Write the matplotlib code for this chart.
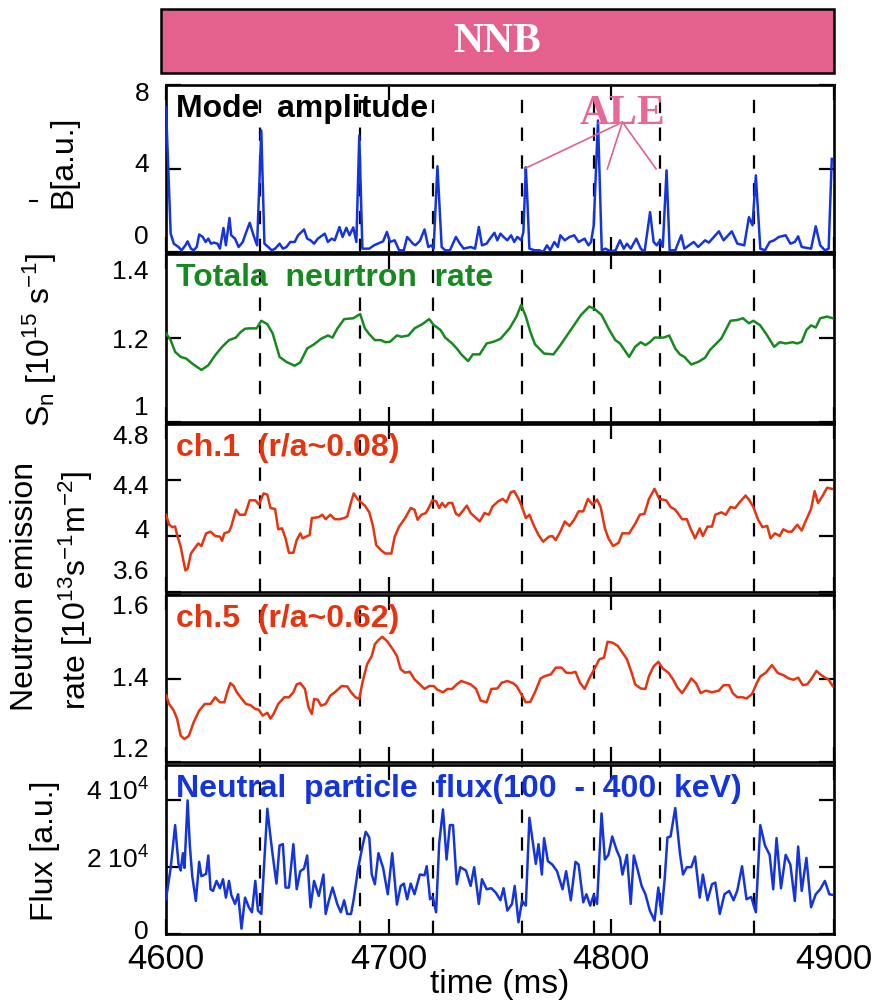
import matplotlib
matplotlib.use('Agg')
import matplotlib.pyplot as plt
from matplotlib.patches import Rectangle
from matplotlib.lines import Line2D

plt.rcParams['font.family'] = ['Liberation Sans', 'DejaVu Sans']
plt.rcParams['mathtext.fontset'] = 'custom'
plt.rcParams['mathtext.rm'] = 'Liberation Sans'
plt.rcParams['mathtext.it'] = 'Liberation Sans:italic'
plt.rcParams['mathtext.bf'] = 'Liberation Sans:bold'

# ---------------- data ----------------
ale_times = [4642, 4687, 4720, 4760, 4792, 4822, 4864]
ale_targets_t = [4761.6, 4798.2, 4820.1]
ale_targets_v = [4.02, 3.98, 3.98]

mode_t = [4600.0, 4602.1, 4603.5, 4605.6, 4607.0, 4608.7, 4609.7, 4611.2, 4612.4, 4613.8,
          4614.9, 4616.5, 4617.8, 4619.0, 4620.2, 4621.5, 4623.1, 4624.2, 4625.8, 4626.9,
          4628.5, 4629.3, 4631.0, 4632.6, 4634.5, 4635.5, 4637.6, 4639.3, 4640.9, 4642.8,
          4644.2, 4645.9, 4647.5, 4649.0, 4651.0, 4652.5, 4654.1, 4655.8, 4657.8, 4659.3,
          4662.0, 4663.4, 4664.9, 4666.5, 4668.2, 4671.3, 4672.7, 4674.4, 4675.8, 4677.9,
          4679.3, 4681.0, 4682.4, 4684.1, 4685.5, 4686.8, 4688.2, 4691.3, 4693.4, 4697.5,
          4699.2, 4700.6, 4702.7, 4704.7, 4706.8, 4708.3, 4710.9, 4712.0, 4714.0, 4716.1,
          4717.8, 4719.2, 4720.2, 4721.9, 4723.8, 4725.4, 4727.5, 4730.2, 4732.0, 4733.7,
          4736.8, 4738.8, 4740.5, 4741.9, 4744.0, 4745.5, 4747.5, 4748.8, 4750.2, 4751.6,
          4753.3, 4755.0, 4756.4, 4757.8, 4759.5, 4760.5, 4761.6, 4762.2, 4763.2, 4765.7,
          4767.8, 4769.4, 4771.1, 4772.5, 4774.4, 4776.0, 4777.1, 4779.1, 4781.2, 4783.3,
          4785.3, 4788.0, 4789.7, 4790.9, 4792.1, 4794.0, 4795.7, 4797.3, 4799.8, 4801.9,
          4803.9, 4805.6, 4807.0, 4808.7, 4811.2, 4813.2, 4814.9, 4817.4, 4819.0, 4820.4,
          4821.9, 4823.1, 4824.8, 4826.2, 4828.7, 4831.4, 4832.8, 4834.9, 4837.0, 4839.0,
          4842.1, 4843.8, 4848.3, 4850.4, 4854.1, 4856.6, 4859.7, 4861.8, 4863.4, 4864.9,
          4866.9, 4869.0, 4871.1, 4873.1, 4875.2, 4878.3, 4880.4, 4882.4, 4883.9, 4885.5,
          4889.7, 4891.8, 4893.8, 4895.9, 4897.6, 4899.0]
mode_amp = [6.93, 0.88, 0.40, 0.24, 0.08, 0.32, 0.51, 0.16, 0.08, 0.24,
            0.84, 0.72, 0.48, 0.64, 0.40, 0.45, 0.40, 0.16, 1.15, 0.32,
            1.63, 0.80, 0.64, 0.24, 0.48, 0.80, 1.40, 0.80, 0.32, 5.82,
            0.40, 0.24, 0.08, 0.16, 0.40, 0.16, 0.24, 0.48, 0.48, 0.80,
            1.08, 0.64, 0.56, 0.40, 0.64, 0.88, 0.48, 0.64, 0.56, 1.20,
            0.72, 1.16, 0.80, 1.18, 0.48, 5.58, 0.16, 0.16, 0.32, 0.51,
            0.96, 0.48, 0.56, 0.08, 0.08, 0.72, 0.40, 0.32, 0.53, 1.08,
            0.24, 0.32, 0.16, 4.11, 0.24, 0.08, 0.08, 0.72, 0.40, 0.16,
            0.24, 0.16, 1.20, 0.32, 0.40, 0.64, 0.92, 0.56, 0.88, 0.72,
            0.56, 0.80, 0.48, 0.72, 0.56, 0.96, 4.06, 2.71, 0.16, 0.08,
            0.08, 0.0, 0.32, 0.08, 0.48, 0.24, 0.80, 0.56, 0.72, 0.80,
            0.48, 0.64, 0.32, 0.48, 1.28, 6.30, 0.08, 0.16, 0.03, 0.08,
            0.56, 0.16, 0.40, 0.16, 0.64, 0.16, 0.0, 1.91, 0.48, 0.32,
            0.56, 0.24, 3.91, 0.08, 0.08, 0.80, 0.16, 0.32, 0.48, 0.24,
            0.56, 0.45, 0.99, 0.56, 0.99, 0.40, 0.32, 1.67, 1.28, 3.67,
            0.16, 0.08, 0.48, 0.56, 0.72, 0.80, 0.40, 0.48, 0.75, 0.24,
            0.16, 1.23, 0.32, 0.08, 0.16, 4.46]

sn_t = [4600.0, 4602.1, 4604.1, 4606.6, 4609.1, 4611.8, 4615.9, 4619.0, 4622.1, 4625.2,
        4628.3, 4631.4, 4633.5, 4635.5, 4637.6, 4640.7, 4642.8, 4645.5, 4647.9, 4651.0,
        4654.1, 4657.8, 4660.3, 4663.4, 4666.5, 4669.6, 4672.7, 4674.8, 4676.9, 4680.0,
        4684.1, 4687.2, 4689.3, 4691.3, 4693.8, 4696.5, 4698.5, 4700.6, 4703.7, 4705.8,
        4708.9, 4711.6, 4715.1, 4718.2, 4720.2, 4723.3, 4725.4, 4728.5, 4730.6, 4732.6,
        4735.7, 4737.8, 4740.9, 4744.0, 4747.1, 4750.2, 4754.3, 4757.4, 4759.5, 4761.6,
        4763.6, 4765.7, 4769.8, 4774.0, 4777.1, 4780.2, 4783.3, 4786.4, 4790.1, 4792.5,
        4795.6, 4798.7, 4801.8, 4803.9, 4808.0, 4810.7, 4813.2, 4815.3, 4817.3, 4819.4,
        4823.5, 4826.0, 4828.7, 4830.8, 4832.8, 4835.9, 4839.0, 4842.1, 4844.2, 4849.4,
        4853.5, 4856.6, 4859.1, 4861.8, 4863.8, 4866.9, 4870.0, 4873.1, 4875.6, 4878.3,
        4881.4, 4883.5, 4885.5, 4887.6, 4889.7, 4891.8, 4893.8, 4896.9, 4899.4]
sn_rate = [1.211, 1.195, 1.167, 1.155, 1.151, 1.139, 1.124, 1.135, 1.159, 1.179,
           1.195, 1.201, 1.214, 1.222, 1.223, 1.223, 1.241, 1.233, 1.211, 1.155,
           1.143, 1.134, 1.142, 1.175, 1.185, 1.198, 1.206, 1.201, 1.222, 1.245,
           1.247, 1.257, 1.223, 1.209, 1.195, 1.195, 1.190, 1.191, 1.206, 1.203,
           1.206, 1.223, 1.233, 1.245, 1.231, 1.219, 1.201, 1.187, 1.175, 1.161,
           1.145, 1.161, 1.161, 1.187, 1.191, 1.198, 1.223, 1.251, 1.279, 1.251,
           1.215, 1.185, 1.163, 1.161, 1.183, 1.207, 1.231, 1.255, 1.275, 1.269,
           1.255, 1.223, 1.195, 1.187, 1.155, 1.179, 1.190, 1.183, 1.190, 1.201,
           1.201, 1.206, 1.175, 1.161, 1.155, 1.137, 1.143, 1.153, 1.171, 1.199,
           1.241, 1.243, 1.247, 1.235, 1.241, 1.230, 1.206, 1.179, 1.190, 1.187,
           1.190, 1.187, 1.191, 1.219, 1.230, 1.225, 1.247, 1.251, 1.247]

ch1_t = [4600.0, 4601.4, 4602.9, 4604.1, 4605.0, 4606.6, 4608.7, 4609.7, 4611.2, 4612.8,
         4614.5, 4615.9, 4618.0, 4620.0, 4622.1, 4624.2, 4625.2, 4626.2, 4628.3, 4629.3,
         4631.4, 4633.1, 4635.5, 4637.6, 4640.1, 4641.7, 4643.8, 4645.5, 4646.9, 4649.0,
         4650.4, 4652.1, 4653.7, 4655.2, 4657.2, 4658.7, 4660.3, 4661.4, 4662.8, 4664.5,
         4665.5, 4668.6, 4670.2, 4671.7, 4673.8, 4675.8, 4677.9, 4680.0, 4681.4, 4683.1,
         4684.3, 4686.2, 4689.3, 4691.3, 4693.0, 4694.4, 4696.5, 4698.5, 4701.2, 4702.7,
         4704.7, 4707.4, 4709.9, 4711.6, 4713.0, 4714.7, 4716.7, 4718.2, 4719.6, 4721.3,
         4722.7, 4724.0, 4725.4, 4726.9, 4728.5, 4730.2, 4731.6, 4733.7, 4735.1, 4736.8,
         4739.3, 4740.9, 4743.0, 4745.0, 4746.7, 4749.2, 4751.2, 4752.9, 4754.9, 4756.4,
         4758.5, 4759.9, 4761.6, 4763.2, 4765.3, 4767.3, 4769.4, 4771.9, 4773.5, 4775.0,
         4777.1, 4779.1, 4781.2, 4783.3, 4785.3, 4787.4, 4789.5, 4791.5, 4793.6, 4795.2,
         4797.1, 4798.7, 4800.8, 4803.3, 4804.9, 4808.0, 4810.7, 4812.8, 4814.9, 4816.9,
         4819.4, 4821.5, 4824.6, 4826.6, 4828.7, 4831.8, 4833.9, 4835.5, 4837.6, 4839.7,
         4841.1, 4843.2, 4845.2, 4846.7, 4849.4, 4851.4, 4853.5, 4855.6, 4857.6, 4860.3,
         4861.8, 4863.8, 4865.9, 4867.9, 4870.0, 4871.5, 4873.5, 4875.6, 4877.2, 4879.3,
         4881.0, 4883.5, 4885.5, 4887.2, 4889.7, 4891.3, 4892.8, 4894.8, 4896.9, 4899.0]
ch1_rate = [4.152, 4.080, 4.063, 4.068, 4.007, 3.923, 3.754, 3.766, 3.875, 3.911,
            3.947, 3.928, 4.019, 4.031, 4.000, 3.995, 3.966, 4.019, 4.031, 4.067,
            4.188, 4.152, 4.152, 4.255, 4.255, 4.224, 4.304, 4.296, 4.200, 4.193,
            4.048, 4.055, 3.983, 3.880, 3.880, 3.971, 4.019, 3.983, 3.995, 4.007,
            4.128, 4.135, 4.152, 4.120, 4.152, 4.120, 4.120, 4.128, 4.140, 4.241,
            4.304, 4.260, 4.217, 4.169, 4.067, 3.935, 3.899, 3.875, 3.875, 3.995,
            4.067, 4.128, 4.200, 4.188, 4.116, 4.152, 4.164, 4.207, 4.255, 4.248,
            4.200, 4.236, 4.207, 4.236, 4.236, 4.159, 4.145, 4.188, 4.217, 4.164,
            4.128, 4.104, 4.164, 4.152, 4.212, 4.248, 4.265, 4.241, 4.313, 4.320,
            4.260, 4.207, 4.128, 4.152, 4.072, 4.007, 3.959, 3.995, 4.000, 3.971,
            4.031, 4.104, 4.072, 4.116, 4.176, 4.176, 4.265, 4.224, 4.260, 4.207,
            4.055, 3.983, 3.928, 3.952, 4.019, 4.019, 4.087, 4.152, 4.159, 4.265,
            4.337, 4.265, 4.255, 4.207, 4.188, 4.120, 4.120, 4.055, 3.983, 4.055,
            4.000, 4.067, 4.067, 4.152, 4.169, 4.152, 4.207, 4.200, 4.241, 4.289,
            4.260, 4.207, 4.116, 4.063, 4.072, 3.983, 4.019, 4.000, 4.048, 4.031,
            4.031, 4.080, 4.039, 4.104, 4.193, 4.320, 4.236, 4.284, 4.345, 4.337]

ch5_t = [4600.0, 4601.4, 4603.5, 4605.0, 4606.6, 4608.3, 4610.3, 4612.4, 4614.9, 4617.4,
         4620.0, 4622.1, 4624.2, 4626.2, 4627.7, 4628.9, 4630.4, 4631.8, 4633.5, 4635.9,
         4638.0, 4640.1, 4641.7, 4643.4, 4645.5, 4646.9, 4648.3, 4650.4, 4653.1, 4655.2,
         4657.2, 4658.7, 4660.3, 4662.4, 4664.0, 4665.5, 4666.5, 4668.2, 4669.6, 4671.7,
         4673.8, 4675.8, 4678.9, 4681.4, 4683.1, 4685.1, 4686.8, 4688.2, 4690.3, 4692.4,
         4693.8, 4695.4, 4697.1, 4699.2, 4701.6, 4703.7, 4705.4, 4707.4, 4709.5, 4711.6,
         4714.0, 4716.1, 4718.2, 4720.2, 4721.9, 4724.4, 4726.4, 4728.5, 4730.6, 4732.6,
         4734.7, 4736.8, 4739.3, 4741.3, 4744.0, 4746.1, 4748.8, 4750.8, 4753.3, 4755.8,
         4757.4, 4759.5, 4761.6, 4763.6, 4765.7, 4768.2, 4770.2, 4772.9, 4775.0, 4777.7,
         4779.7, 4781.8, 4783.9, 4785.9, 4788.0, 4790.1, 4792.5, 4794.6, 4796.7, 4798.3,
         4800.4, 4802.9, 4805.0, 4807.0, 4809.1, 4810.7, 4813.2, 4815.3, 4816.9, 4819.0,
         4821.1, 4823.1, 4825.6, 4827.7, 4829.7, 4831.8, 4833.9, 4835.9, 4838.0, 4840.1,
         4842.5, 4845.2, 4848.3, 4850.4, 4852.9, 4854.5, 4856.6, 4859.1, 4860.7, 4863.2,
         4865.3, 4866.9, 4869.4, 4872.1, 4874.8, 4877.3, 4879.7, 4881.8, 4883.9, 4886.0,
         4888.0, 4889.7, 4892.1, 4893.8, 4895.9, 4897.5, 4899.4]
ch5_rate = [1.360, 1.339, 1.323, 1.303, 1.263, 1.255, 1.263, 1.295, 1.323, 1.339,
            1.339, 1.355, 1.343, 1.343, 1.371, 1.389, 1.382, 1.367, 1.355, 1.339,
            1.336, 1.327, 1.325, 1.311, 1.318, 1.304, 1.315, 1.339, 1.355, 1.355,
            1.367, 1.386, 1.389, 1.375, 1.331, 1.315, 1.351, 1.349, 1.335, 1.339,
            1.359, 1.367, 1.382, 1.381, 1.367, 1.355, 1.351, 1.390, 1.434, 1.454,
            1.482, 1.492, 1.500, 1.490, 1.472, 1.454, 1.422, 1.414, 1.416, 1.398,
            1.386, 1.375, 1.382, 1.382, 1.373, 1.367, 1.375, 1.375, 1.386, 1.394,
            1.390, 1.386, 1.375, 1.347, 1.343, 1.375, 1.376, 1.390, 1.394, 1.389,
            1.382, 1.363, 1.343, 1.344, 1.367, 1.400, 1.406, 1.410, 1.426, 1.426,
            1.414, 1.413, 1.416, 1.390, 1.375, 1.400, 1.424, 1.446, 1.450, 1.488,
            1.486, 1.478, 1.462, 1.446, 1.414, 1.386, 1.376, 1.375, 1.406, 1.429,
            1.440, 1.424, 1.414, 1.398, 1.378, 1.365, 1.382, 1.400, 1.389, 1.365,
            1.371, 1.367, 1.371, 1.384, 1.384, 1.365, 1.355, 1.355, 1.352, 1.363,
            1.389, 1.405, 1.414, 1.432, 1.413, 1.408, 1.400, 1.397, 1.402, 1.384,
            1.386, 1.398, 1.418, 1.410, 1.402, 1.398, 1.382]

npa_t = [4600.0, 4602.1, 4604.1, 4605.6, 4606.6, 4607.6, 4608.3, 4609.7, 4610.7, 4611.8,
         4613.4, 4614.9, 4615.9, 4618.0, 4619.0, 4620.0, 4621.1, 4622.7, 4624.2, 4625.6,
         4626.9, 4628.3, 4629.3, 4631.0, 4632.4, 4633.9, 4635.5, 4637.2, 4638.6, 4640.1,
         4641.3, 4642.8, 4645.5, 4646.9, 4647.9, 4649.6, 4651.0, 4652.5, 4653.7, 4655.2,
         4657.2, 4658.7, 4660.3, 4662.0, 4663.4, 4664.9, 4666.5, 4668.6, 4670.7, 4671.7,
         4673.1, 4674.8, 4676.9, 4678.5, 4680.0, 4681.4, 4683.1, 4684.3, 4686.2, 4688.2,
         4689.7, 4691.3, 4692.4, 4693.8, 4695.4, 4697.5, 4699.6, 4701.6, 4703.7, 4705.4,
         4706.8, 4708.3, 4709.9, 4711.6, 4714.0, 4716.1, 4717.1, 4718.6, 4719.8, 4721.3,
         4722.7, 4724.4, 4726.0, 4727.5, 4728.9, 4730.6, 4732.2, 4734.7, 4736.8, 4738.4,
         4740.5, 4741.9, 4744.0, 4746.1, 4748.1, 4750.2, 4751.6, 4753.3, 4755.4, 4756.6,
         4758.3, 4759.9, 4761.6, 4763.2, 4764.7, 4766.1, 4767.3, 4768.8, 4769.8, 4771.5,
         4773.5, 4775.6, 4778.1, 4779.7, 4781.8, 4783.9, 4785.3, 4787.4, 4788.8, 4790.5,
         4792.1, 4793.6, 4795.6, 4797.1, 4798.7, 4800.4, 4802.5, 4803.9, 4805.0, 4807.0,
         4808.7, 4810.1, 4811.6, 4813.6, 4815.3, 4817.3, 4819.4, 4821.1, 4822.5, 4824.0,
         4825.2, 4826.6, 4828.7, 4830.8, 4832.2, 4833.9, 4835.9, 4837.6, 4839.7, 4841.1,
         4843.2, 4845.2, 4846.7, 4848.7, 4850.8, 4852.9, 4854.9, 4856.6, 4858.7, 4860.7,
         4862.8, 4864.9, 4866.9, 4869.0, 4871.1, 4872.7, 4874.2, 4876.2, 4878.3, 4880.4,
         4882.4, 4883.9, 4885.5, 4887.6, 4889.7, 4891.8, 4893.8, 4895.9, 4897.9, 4899.4]
# neutral particle flux in units of 1e4
npa_flux = [1.04, 1.98, 3.26, 2.10, 1.90, 2.42, 1.98, 4.00, 2.65, 1.73,
            0.99, 2.16, 1.73, 1.80, 2.35, 1.34, 1.29, 1.59, 1.37, 1.64,
            1.09, 1.59, 1.17, 0.90, 1.19, 0.16, 1.09, 0.80, 0.65, 1.59,
            0.70, 0.60, 3.75, 2.92, 2.37, 1.51, 2.65, 2.69, 1.39, 1.39,
            2.69, 1.34, 1.88, 1.96, 2.35, 0.80, 1.59, 1.14, 1.78, 0.60,
            0.99, 1.39, 0.90, 0.65, 1.01, 0.60, 0.60, 1.04, 1.93, 2.62,
            3.06, 2.89, 1.78, 1.49, 2.42, 1.98, 1.19, 2.42, 0.88, 1.44,
            1.51, 1.04, 1.51, 1.19, 1.78, 1.76, 2.03, 1.04, 1.11, 0.65,
            2.72, 3.73, 2.23, 3.26, 3.26, 1.49, 2.00, 1.90, 1.44, 2.00,
            0.90, 1.64, 1.34, 1.37, 1.24, 1.01, 1.37, 0.70, 0.90, 1.44,
            0.35, 0.99, 0.85, 3.48, 2.77, 2.10, 2.69, 1.78, 2.87, 2.18,
            2.08, 1.88, 1.34, 1.88, 1.01, 2.16, 2.08, 0.95, 1.19, 0.85,
            1.17, 0.90, 3.61, 2.23, 2.37, 2.92, 2.49, 2.28, 1.78, 2.37,
            0.90, 2.35, 1.98, 1.44, 1.19, 0.70, 0.40, 1.39, 0.60, 1.68,
            2.89, 2.92, 3.77, 2.42, 1.78, 2.00, 2.00, 2.32, 1.09, 1.78,
            1.01, 1.49, 1.54, 0.60, 1.19, 1.29, 1.01, 1.31, 2.03, 1.04,
            1.11, 0.65, 3.26, 2.65, 2.37, 1.34, 2.87, 1.37, 2.37, 2.08,
            0.99, 2.62, 1.29, 2.28, 0.80, 1.19, 1.34, 1.59, 1.19, 1.17]

xticks = [4600, 4700, 4800, 4900]
xtick_labels = ['4600', '4700', '4800', '4900']

panel_titles = ['Mode  amplitude', 'Totala  neurtron  rate', 'ch.1  (r/a~0.08)',
                'ch.5  (r/a~0.62)', 'Neutral  particle  flux(100  -  400  keV)']
panel_yticks = [[8, 4, 0], [1.4, 1.2, 1.0], [4.8, 4.4, 4.0, 3.6], [1.6, 1.4, 1.2], [4, 2, 0]]
panel_yticklabels = [['8', '4', '0'], ['1.4', '1.2', '1'], ['4.8', '4.4', '4', '3.6'],
                     ['1.6', '1.4', '1.2'], ['4 10$^{4}$', '2 10$^{4}$', '0']]
panel_ylims = [(0, 8), (1.0, 1.4), (3.6, 4.8), (1.2, 1.6), (0, 5.06)]

# ---------------- style ----------------
BLUE = '#1434DE'
GREEN = '#178A1F'
RED = '#E6340F'
PINK = '#E4618D'
PINK_TXT = '#E8689A'

W, H = 874, 1003
fig = plt.figure(figsize=(W / 100, H / 100), dpi=100)

LEFT, RIGHT = 166, 834
rows = [(86, 253), (255, 423), (425, 593), (596, 763), (766, 935)]
label_offsets = [[8, -5, -16], [17, 2, -15], [12, 6, -6, -21], [11, 0, -13], [-9, -8, -3]]
title_colors = ['black', GREEN, RED, RED, BLUE]
series = [(mode_t, mode_amp, BLUE), (sn_t, sn_rate, GREEN), (ch1_t, ch1_rate, RED),
          (ch5_t, ch5_rate, RED), (npa_t, npa_flux, BLUE)]

axes = []
for i, (top, bot) in enumerate(rows):
    ax = fig.add_axes([LEFT / W, 1 - bot / H, (RIGHT - LEFT) / W, (bot - top) / H])
    axes.append(ax)
    t, v, c = series[i]
    ax.plot(t, v, color=c, lw=1.8, zorder=3)
    for ta in ale_times:
        ax.axvline(ta, color='black', lw=1.6, ls=(0, (6.0, 6.5)), zorder=2)
    ax.set_xlim(4600, 4900)
    ax.set_ylim(*panel_ylims[i])
    ax.set_xticks(xticks)
    ax.set_yticks(panel_yticks[i])
    ax.set_yticklabels([])
    ax.tick_params(direction='in', top=True, right=True, length=11, width=1.6,
                   labelbottom=(i == 4))
    for s in ax.spines.values():
        s.set_linewidth(1.9)
    for val, lab, off in zip(panel_yticks[i], panel_yticklabels[i], label_offsets[i]):
        ax.annotate(lab, xy=(0, val), xycoords=ax.get_yaxis_transform(),
                    xytext=(-17, -off), textcoords='offset pixels',
                    ha='right', va='center', fontsize=19, annotation_clip=False)
    ax.annotate(panel_titles[i], xy=(0, 1), xycoords='axes fraction',
                xytext=(10, -8), textcoords='offset pixels', ha='left', va='top',
                fontsize=23, fontweight='bold', color=title_colors[i], zorder=5)

ax5 = axes[4]
ax5.set_xticklabels(xtick_labels)
ax5.tick_params(axis='x', labelsize=25, pad=6)

# ALE annotation
ax1 = axes[0]
for tt, vv in zip(ale_targets_t, ale_targets_v):
    ax1.plot([4805, tt], [6.22, vv], color=PINK, lw=1.2, zorder=4)
ax1.text(4805, 6.2, 'ALE', color=PINK_TXT, fontsize=30, fontweight='bold',
         family=['Liberation Serif', 'DejaVu Serif'], ha='center', va='baseline', zorder=5)

# NNB bar
fig.patches.append(Rectangle((161 / W, 1 - 74 / H), 673 / W, 64 / H, transform=fig.transFigure,
                             facecolor=PINK, edgecolor='black', lw=1.8))
fig.text(497 / W, 1 - 42 / H, 'NNB', color='white', fontsize=30, fontweight='bold',
         family=['Liberation Serif', 'DejaVu Serif'], ha='center', va='center')

# y labels
fig.text(63 / W, 1 - 162 / H, 'B[a.u.]', rotation=90, ha='center', va='center', fontsize=23)
fig.lines.append(Line2D([30 / W, 37 / W], [1 - 201.5 / H] * 2, transform=fig.transFigure,
                        color='black', lw=1.5))
fig.text(40 / W, 1 - 340 / H, 'S$_{\\rm n}$ [10$^{15}$ s$^{-1}$]', rotation=90,
         ha='center', va='center', fontsize=23)
fig.text(25 / W, 1 - 586 / H, 'Neutron emission', rotation=90, ha='center', va='center',
         fontsize=23)
fig.text(76 / W, 1 - 590 / H, 'rate [10$^{13}$s$^{-1}$m$^{-2}$]', rotation=90,
         ha='center', va='center', fontsize=23)
fig.text(45 / W, 1 - 851 / H, 'Flux [a.u.]', rotation=90, ha='center', va='center',
         fontsize=23)

# x label
fig.text(500 / W, 1 - 1000 / H, 'time (ms)', ha='center', va='bottom', fontsize=24)

fig.savefig('out.png', dpi=100)
